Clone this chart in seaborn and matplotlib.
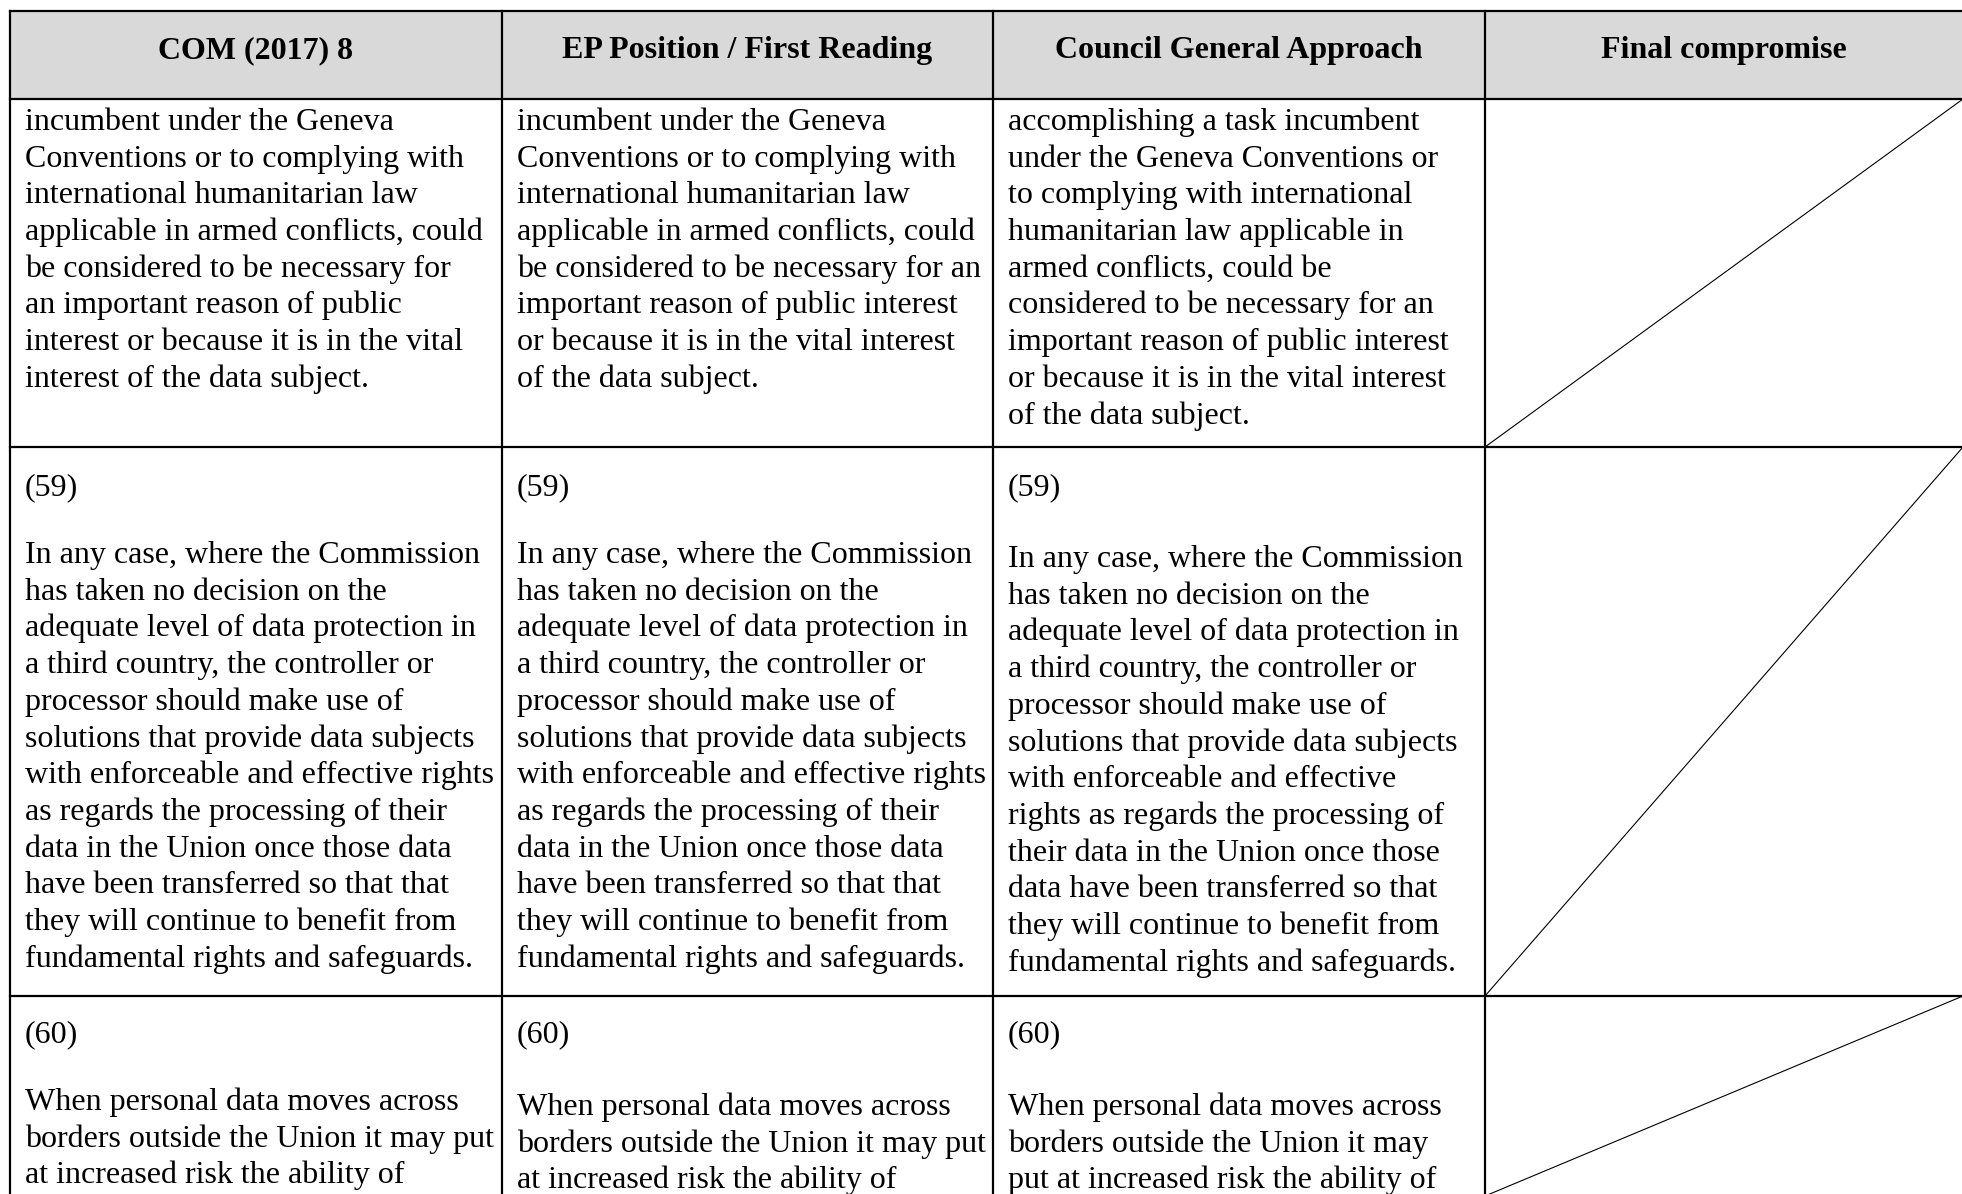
import matplotlib
matplotlib.use("Agg")
import matplotlib.pyplot as plt
import seaborn as sns
import pandas as pd

# ---------------- content ----------------
headers = ["COM (2017) 8", "EP Position / First Reading",
           "Council General Approach", "Final compromise"]

row1_com = ["incumbent under the Geneva",
            "Conventions or to complying with",
            "international humanitarian law",
            "applicable in armed conflicts, could",
            "be considered to be necessary for",
            "an important reason of public",
            "interest or because it is in the vital",
            "interest of the data subject."]
row1_ep = ["incumbent under the Geneva",
           "Conventions or to complying with",
           "international humanitarian law",
           "applicable in armed conflicts, could",
           "be considered to be necessary for an",
           "important reason of public interest",
           "or because it is in the vital interest",
           "of the data subject."]
row1_council = ["accomplishing a task incumbent",
                "under the Geneva Conventions or",
                "to complying with international",
                "humanitarian law applicable in",
                "armed conflicts, could be",
                "considered to be necessary for an",
                "important reason of public interest",
                "or because it is in the vital interest",
                "of the data subject."]

row2_label = "(59)"
row2_com = ["In any case, where the Commission",
            "has taken no decision on the",
            "adequate level of data protection in",
            "a third country, the controller or",
            "processor should make use of",
            "solutions that provide data subjects",
            "with enforceable and effective rights",
            "as regards the processing of their",
            "data in the Union once those data",
            "have been transferred so that that",
            "they will continue to benefit from",
            "fundamental rights and safeguards."]
row2_ep = list(row2_com)
row2_council = ["In any case, where the Commission",
                "has taken no decision on the",
                "adequate level of data protection in",
                "a third country, the controller or",
                "processor should make use of",
                "solutions that provide data subjects",
                "with enforceable and effective",
                "rights as regards the processing of",
                "their data in the Union once those",
                "data have been transferred so that",
                "they will continue to benefit from",
                "fundamental rights and safeguards."]

row3_label = "(60)"
row3_com = ["When personal data moves across",
            "borders outside the Union it may put",
            "at increased risk the ability of"]
row3_ep = list(row3_com)
row3_council = ["When personal data moves across",
                "borders outside the Union it may",
                "put at increased risk the ability of"]

# ---------------- layout (pixel units of the 1962x1194 page) ----------------
W, H = 1962, 1194
COL_EDGES = [10, 502, 993, 1485, 1963]
ROW_EDGES = [11, 99, 447, 996, 1196]
PAD_X = 15
LINE = 36.7
BORDER_LW = 1.6
FONT = ["Liberation Serif", "DejaVu Serif"]
FS = 23
HEADER_FS = 23
HEADER_BG = "#d9d9d9"

sns.set_style("white")
plt.rcParams["font.family"] = FONT

fig = plt.figure(figsize=(W / 100, H / 100), dpi=100)
ax = fig.add_axes([0, 0, 1, 1])
ax.set_xlim(0, W)
ax.set_ylim(H, 0)
ax.axis("off")

# header background
ax.fill_between([COL_EDGES[0], COL_EDGES[-1]], ROW_EDGES[0], ROW_EDGES[1],
                color=HEADER_BG, lw=0, zorder=0)

# header texts
for i, h in enumerate(headers):
    xc = (COL_EDGES[i] + COL_EDGES[i + 1]) / 2
    ax.text(xc, 58, h, ha="center", va="baseline", fontsize=HEADER_FS,
            fontweight="bold", color="black")


def draw_lines(col, y0, lines):
    x = COL_EDGES[col] + PAD_X
    for k, s in enumerate(lines):
        ax.text(x, y0 + k * LINE, s, ha="left", va="baseline",
                fontsize=FS, color="black")


# row 1
draw_lines(0, 130, row1_com)
draw_lines(1, 130, row1_ep)
draw_lines(2, 130, row1_council)

# row 2
for c in range(3):
    draw_lines(c, 495, [row2_label])
draw_lines(0, 563, row2_com)
draw_lines(1, 563, row2_ep)
draw_lines(2, 567, row2_council)

# row 3
for c in range(3):
    draw_lines(c, 1042, [row3_label])
draw_lines(0, 1110, row3_com)
draw_lines(1, 1115, row3_ep)
draw_lines(2, 1115, row3_council)

# grid lines (the right border lies just outside the page)
for y in ROW_EDGES:
    ax.plot([COL_EDGES[0], COL_EDGES[-1]], [y, y], color="black",
            lw=BORDER_LW, solid_capstyle="projecting", zorder=3)
for x in COL_EDGES[:-1]:
    ax.plot([x, x], [ROW_EDGES[0], ROW_EDGES[-1]], color="black",
            lw=BORDER_LW, solid_capstyle="projecting", zorder=3)

# diagonal strike-through in the empty "Final compromise" cells
for r in range(1, len(ROW_EDGES) - 1):
    diag = pd.DataFrame({"x": [COL_EDGES[3], COL_EDGES[4]],
                         "y": [ROW_EDGES[r + 1], ROW_EDGES[r]]})
    sns.lineplot(data=diag, x="x", y="y", ax=ax, color="black", lw=0.8,
                 estimator=None, sort=False, legend=False, zorder=2)

ax.set_xlim(0, W)
ax.set_ylim(H, 0)
ax.axis("off")
fig.savefig("out.png", dpi=100, facecolor="white")
